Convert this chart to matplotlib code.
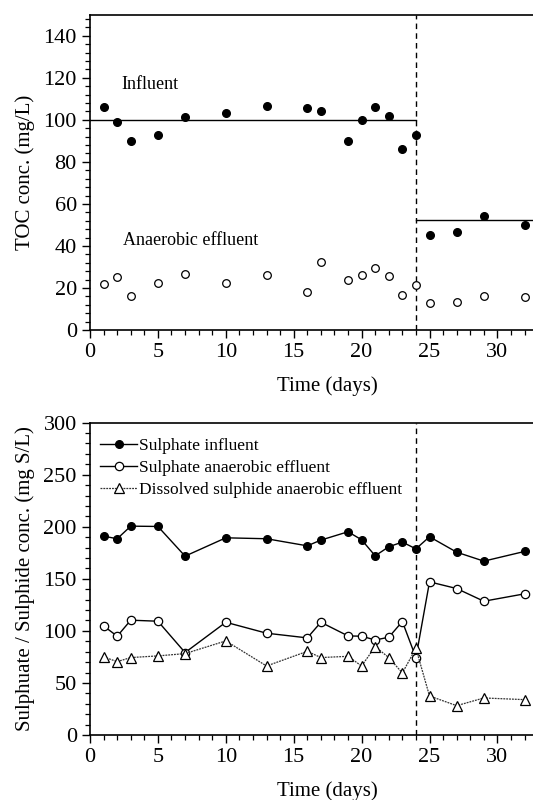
import matplotlib
matplotlib.use("Agg")
import matplotlib.pyplot as plt
from matplotlib.ticker import MultipleLocator

plt.rcParams['font.family'] = ['Liberation Serif', 'DejaVu Serif']

# TOC data
toc_days = [1, 2, 3, 5, 7, 10, 13, 16, 17, 19, 20, 21, 22, 23, 24, 25, 27, 29, 32]
toc_influent = [106.3, 99.0, 90.0, 93.0, 101.4, 103.5, 106.7, 105.6, 104.1, 90.0,
                99.7, 105.9, 101.9, 86.3, 93.0, 45.4, 46.5, 54.3, 49.8]
toc_effluent = [21.9, 25.4, 16.3, 22.4, 26.7, 22.2, 26.2, 18.1, 32.2, 23.8,
                26.2, 29.5, 25.7, 16.7, 21.4, 12.7, 13.5, 16.3, 15.6]
# mean influent levels of the two periods
mean_periods = [(0, 24, 100.0), (24, 35, 52.2)]
switch_day = 24

# sulphate / sulphide data
sulphate_in = [191.0, 188.5, 200.6, 200.3, 171.8, 189.4, 188.5, 181.7, 187.2, 195.2,
               187.5, 172.1, 180.8, 185.3, 178.8, 190.4, 175.6, 167.0, 176.3]
sulphate_out = [104.8, 94.9, 110.3, 109.3, 79.2, 108.3, 97.8, 93.3, 108.3, 95.2,
                94.9, 91.3, 93.9, 109.0, 74.4, 147.1, 140.7, 128.5, 135.6]
sulphide_out = [75.0, 70.5, 74.4, 76.0, 78.2, 90.4, 66.3, 80.4, 74.4, 75.6,
                66.3, 84.9, 74.4, 59.6, 83.3, 37.5, 28.2, 35.6, 34.0]

fig = plt.figure(figsize=(5.33, 8), dpi=100)
ax1 = fig.add_axes([0.1689, 0.5875, 0.8917, 0.394])
ax2 = fig.add_axes([0.1689, 0.0812, 0.8917, 0.3905])


def style_axis(ax):
    ax.set_xlim(0, 35)
    ax.spines['right'].set_visible(False)
    for s in ['left', 'bottom', 'top']:
        ax.spines[s].set_linewidth(1.2)
    ax.set_xticks(range(0, 31, 5))
    ax.xaxis.set_minor_locator(MultipleLocator(1))
    ax.tick_params(which='major', direction='out', length=6, width=1.0,
                   labelsize=16, top=False, right=False)
    ax.tick_params(which='minor', direction='out', length=3.5, width=0.9,
                   top=False, right=False)
    ax.axvline(switch_day, color='black', linestyle=(0, (4, 3)), linewidth=1.0)
    ax.set_xlabel('Time (days)', fontsize=15, labelpad=10)


# top panel
style_axis(ax1)
ax1.set_ylim(0, 150)
ax1.set_yticks(range(0, 141, 20))
ax1.yaxis.set_minor_locator(MultipleLocator(4))
ax1.plot(toc_days, toc_influent, 'o', color='black', markersize=5.5)
ax1.plot(toc_days, toc_effluent, 'o', markerfacecolor='white', markeredgecolor='black',
         markeredgewidth=0.9, markersize=5.5)
for x0, x1, lvl in mean_periods:
    ax1.plot([x0, x1], [lvl, lvl], color='black', linewidth=1.0)
ax1.text(2.3, 117, 'Influent', fontsize=13, va='center')
ax1.text(2.4, 42.5, 'Anaerobic effluent', fontsize=13, va='center')
ax1.set_ylabel('TOC conc. (mg/L)', fontsize=15, labelpad=6)

# bottom panel
style_axis(ax2)
ax2.set_ylim(0, 300)
ax2.yaxis.set_major_locator(MultipleLocator(50))
ax2.yaxis.set_minor_locator(MultipleLocator(10))
ax2.plot(toc_days, sulphate_in, '-o', color='black', linewidth=1.0, markersize=5.5,
         label='Sulphate influent')
ax2.plot(toc_days, sulphate_out, '-o', color='black', markerfacecolor='white',
         linewidth=1.0, markeredgewidth=0.9, markersize=6, label='Sulphate anaerobic effluent')
ax2.plot(toc_days, sulphide_out, linestyle=(0, (1.5, 0.8)), marker='^', color='#333333',
         markerfacecolor='white', markeredgecolor='black', linewidth=0.9,
         markeredgewidth=0.9, markersize=7, label='Dissolved sulphide anaerobic effluent')
ax2.set_ylabel('Sulphuate / Sulphide conc. (mg S/L)', fontsize=15, labelpad=6)
ax2.legend(loc='upper left', frameon=False, fontsize=12.5, handlelength=2.1,
           handletextpad=0.1, labelspacing=0.35, borderaxespad=0.2,
           bbox_to_anchor=(0.0, 0.985))

fig.savefig('out.png', dpi=100)
